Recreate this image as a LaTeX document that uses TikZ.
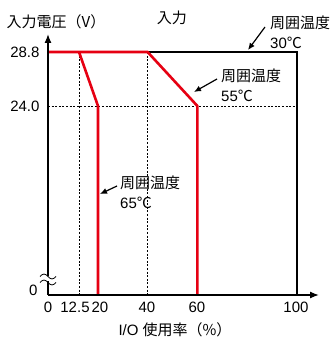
\documentclass[tikz,border=0pt]{standalone}
\usepackage{fontspec}
\setmainfont{Liberation Sans}
\newfontfamily\jp{Noto Sans CJK JP}
\usetikzlibrary{arrows.meta}
\definecolor{curvered}{RGB}{230,0,18}

\begin{document}
\begin{tikzpicture}[x=1pt,y=1pt,font=\fontsize{15}{20}\selectfont,
	axis/.style={line width=1.3pt},
	curve/.style={draw=curvered,line width=2.6pt},
	guide/.style={line width=0.8pt,dash pattern=on 2pt off 1.6pt},
	pointer/.style={-{Latex[length=7pt,width=6pt]},line width=1.2pt},
	lbl/.style={inner sep=0pt,align=left,anchor=west}]
	\useasboundingbox (0,0) rectangle (332,341);

	% Axis corners
	\coordinate (O) at (48,46);
	\coordinate (ytop) at (48,307);
	\coordinate (xend) at (319,46);

	% Dotted guide lines
	\draw[guide] (79,289) -- (79,46);
	\draw[guide] (147.6,289) -- (147.6,46);
	\draw[guide] (48,235) -- (297,235);

	% Limit box on the right
	\draw[axis] (147.6,289) -- (297,289) -- (297,46);

	% Derating curves
	\draw[curve] (47,289) -- (147.6,289) -- (197.4,235) -- (197.4,46); % 55 C
	\draw[curve] (79,289) -- (98,235) -- (98,46); % 65 C

	% Axes
	\draw[axis,-{Latex[length=9pt,width=7pt]}] (O) -- (ytop);
	\draw[axis,-{Latex[length=9pt,width=7pt]}] (O) -- (xend);

	% Break mark on the y axis
	\fill[white] (40,59.5) rectangle (56,64.5);
	\draw[line width=0.8pt] (40,58.5) sin (44,61) cos (48,58.5) sin (52,56) cos (56,58.5);
	\draw[line width=0.8pt] (40,64.5) sin (44,67) cos (48,64.5) sin (52,62) cos (56,64.5);

	% Ticks labels on x
	\foreach \x/\t [count=\i] in {48/0,75/12.5,100/20,147/40,197/60,296/100}
	\node (xt\i) at (\x,34) {\t};

	% Ticks labels on y
	\node[anchor=east] (y288) at (43,289) {28.8};
	\node[anchor=east] (y240) at (43,235) {24.0};
	\node[anchor=east] (y0) at (41,51) {0};

	% Titles
	\node (ytitle) at (56,319) {\jp 入力電圧（V）};
	\node (intitle) at (172,323) {\jp 入力};
	\node (xtitle) at (175,11) {I/O {\jp 使用率（\%）}};

	% Temperature labels
	\node[lbl] (t30) at (270,309) {{\jp 周囲温度}\\30{\jp ℃}};
	\node[lbl] (t55) at (221,256) {{\jp 周囲温度}\\55{\jp ℃}};
	\node[lbl] (t65) at (120,149) {{\jp 周囲温度}\\65{\jp ℃}};

	% Pointers
	\coordinate (a30) at (265,314);
	\coordinate (p30) at (248,291);
	\coordinate (a55) at (217,262);
	\coordinate (p55) at (194,249);
	\coordinate (a65) at (117,155);
	\coordinate (p65) at (100,147);
	\draw[pointer] (a30) -- (p30);
	\draw[pointer] (a55) -- (p55);
	\draw[pointer] (a65) -- (p65);
\end{tikzpicture}
\end{document}
